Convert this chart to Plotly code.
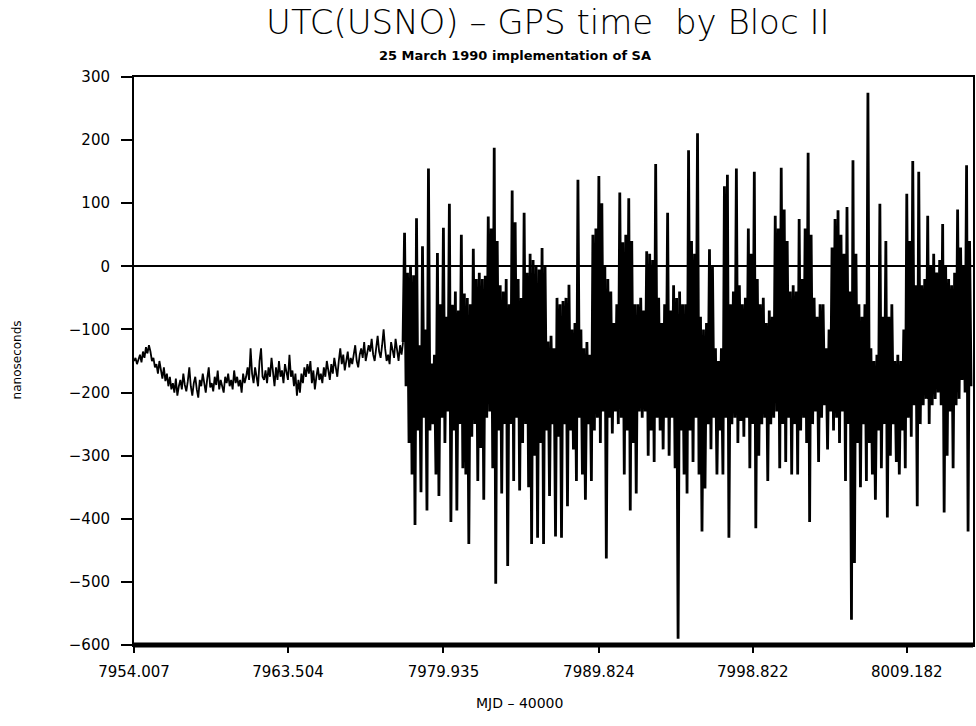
import plotly.graph_objects as go

# ---- data ----
tick_index = [0, 103, 207, 311, 414, 517]
tick_labels = ["7954.007", "7963.504", "7979.935", "7989.824", "7998.822", "8009.182"]

# before SA switched on (smooth part)
pre_sa = [
    -150, -145, -155, -148, -140, -152, -135, -145, -128, -138, -125, -135,
    -150, -145, -160, -155, -170, -150, -165, -178, -160, -182, -170, -190, -175, -195,
    -185, -200, -178, -205, -190, -180, -195, -170, -188, -198, -182, -160, -190, -205,
    -185, -175, -195, -208, -180, -190, -170, -185, -200, -178, -160, -192, -185, -198,
    -175, -188, -165, -195, -180, -190, -200, -175, -185, -170, -190, -180, -195, -165,
    -185, -175, -190, -180, -200, -170, -185, -175, -160, -180,
    -130, -170, -185, -160, -175, -190, -150, -130, -175, -180, -165, -185, -160, -175,
    -145, -170, -190, -160, -180, -150, -175, -165, -185, -155, -170, -180, -140, -175,
    -165, -190, -170, -205, -180, -200, -170, -185, -160, -175, -155, -170, -150, -185,
    -165, -195, -175, -160, -180, -170,
    -185, -160, -175, -150, -165, -180, -155, -170, -145, -160, -175, -150, -130, -155,
    -140, -165, -150, -135, -160, -145, -155, -140, -125, -150, -160, -140, -130, -145,
    -120, -150, -140, -125, -135, -115, -140, -150, -130, -110, -135, -145, -125, -100,
    -130, -150, -140, -155, -120, -135, -145, -115, -130, -150, -125, -140, -120,
]

# after SA switched on (noisy part)
post_sa = [
    53, -190, -10, -280, 0, -330, -14, -410, 76, -260,
    -125, -358, 32, -240, -100, -387, 155, -260, -154, -250,
    -140, -330, 21, -364, -60, -240, 61, -280, -80, -230,
    99, -405, -61, -260, -40, -387, -70, -250, 50, -320,
    -43, -330, -50, -440, -60, -270, 28, -250, -20, -340,
    -10, -288, -20, -370, -15, -240, 79, -230, 60, -320,
    188, -503, 40, -260, -30, -360, -40, -250, -20, -475,
    -60, -250, 120, -340, 70, -240, -20, -355, -50, -280,
    85, -250, -10, -350, 20, -440, 10, -300, 0, -430,
    -5, -280, 29, -440, 0, -260, -119, -364, -110, -250,
    -130, -428, -50, -270, -60, -430, -55, -250, -50, -380,
    -29, -260, -100, -290, -90, -340, 137, -240, -100, -330,
    -130, -370, -120, -250, -140, -340, 50, -260, 60, -240,
    143, -280, 100, -230, 0, -463, -20, -240, -40, -265,
    -90, -230, -60, -250, 117, -240, 38, -330, 50, -260,
    108, -387, 40, -280, -60, -360, -60, -230, -50, -240,
    -70, -230, 24, -300, 20, -260, 10, -310, 162, -240,
    -50, -260, -90, -290, -60, -240, 85, -300, -70, -240,
    -30, -320, -50, -590, -40, -260, -60, -330, -60, -360,
    184, -260, 40, -310, 20, -240, 211, -330, -80, -420,
    -100, -352, -90, -250, 27, -290, 0, -240, -130, -330,
    -150, -260, -130, -330, 127, -240, 145, -430, -60, -250,
    -40, -240, 155, -280, -30, -245, -60, -270, -50, -240,
    60, -320, 20, -250, 150, -415, -20, -300, -60, -250,
    -50, -240, -90, -340, -70, -250, -80, -240, 80, -230,
    60, -320, 156, -250, 90, -310, 40, -240, -40, -330,
    -30, -250, -40, -330, 75, -260, -20, -240, 60, -280,
    180, -405, 50, -250, -50, -230, -80, -310, -60, -240,
    -60, -220, -130, -290, -100, -230, 30, -260, 75, -240,
    89, -280, 50, -230, 20, -340, 94, -250, -40, -560,
    168, -470, 20, -280, -60, -350, -80, -250, -60, -340,
    275, -280, -130, -330, -150, -370, -140, -260, 99, -320,
    -80, -250, 40, -398, -80, -300, -60, -250, -150, -310,
    -140, -330, -150, -260, -100, -320, 115, -240, 40, -270,
    167, -220, -30, -380, 150, -250, -30, -220, -20, -210,
    80, -250, 0, -220, 20, -210, -10, -200, 10, -220,
    67, -390, 0, -300, -20, -230, -30, -320, -10, -220,
    90, -210, 30, -180, 0, -200, 160, -420, 40, -190,
]

n_pre = len(pre_sa)
x_pre = list(range(n_pre))
# noisy trace starts from the last smooth sample so the line is continuous
x_post = list(range(n_pre - 1, n_pre + len(post_sa)))
y_post = [pre_sa[-1]] + post_sa

FONT = "DejaVu Sans"

fig = go.Figure()
fig.add_trace(go.Scatter(x=x_pre, y=pre_sa, mode="lines",
                         line=dict(color="black", width=1.8), hoverinfo="skip"))
fig.add_trace(go.Scatter(x=x_post, y=y_post, mode="lines",
                         line=dict(color="black", width=2.8), hoverinfo="skip"))

fig.update_layout(
    width=976, height=726,
    margin=dict(l=134, r=1, t=77, b=81),
    plot_bgcolor="white", paper_bgcolor="white",
    showlegend=False,
    font=dict(family=FONT, color="black"),
)
fig.update_xaxes(
    range=[0, 561.3], tickmode="array", tickvals=tick_index, ticktext=tick_labels,
    ticks="outside", ticklen=6, tickwidth=2, tickcolor="black",
    showgrid=False, zeroline=False,
    showline=True, linecolor="black", linewidth=2, mirror=True,
    tickfont=dict(family=FONT, size=15, color="black"),
    ticklabelstandoff=6,
)
fig.update_yaxes(
    range=[-600, 300], dtick=100, tick0=0,
    ticks="outside", ticklen=11, tickwidth=2, tickcolor="black",
    showgrid=False, zeroline=True, zerolinecolor="black", zerolinewidth=2,
    showline=True, linecolor="black", linewidth=2, mirror=True,
    tickfont=dict(family=FONT, size=15, color="black"),
    ticklabelstandoff=8,
)

# thick bottom axis bar as in the scan
fig.add_shape(type="line", xref="paper", yref="paper", x0=0, x1=1, y0=0, y1=0,
              line=dict(color="black", width=5))

fig.add_annotation(text="UTC(USNO) \u2013 GPS time  by Bloc II", xref="paper", yref="paper",
                   x=0.493, y=1.097, showarrow=False, xanchor="center", yanchor="middle",
                   font=dict(family=FONT, size=34, color="black", weight=300))
fig.add_annotation(text="25 March 1990 implementation of SA", xref="paper", yref="paper",
                   x=0.454, y=1.037, showarrow=False, xanchor="center", yanchor="middle",
                   font=dict(family=FONT, size=13, color="black", weight="bold"))
fig.add_annotation(text="MJD \u2013 40000", xref="paper", yref="paper",
                   x=0.46, y=-0.102, showarrow=False, xanchor="center", yanchor="middle",
                   font=dict(family=FONT, size=14, color="black"))
fig.add_annotation(text="nanoseconds", xref="paper", yref="paper",
                   x=-0.140, y=0.502, showarrow=False, xanchor="center", yanchor="middle",
                   textangle=-90,
                   font=dict(family=FONT, size=12, color="black"))

fig.write_html("out.html")
